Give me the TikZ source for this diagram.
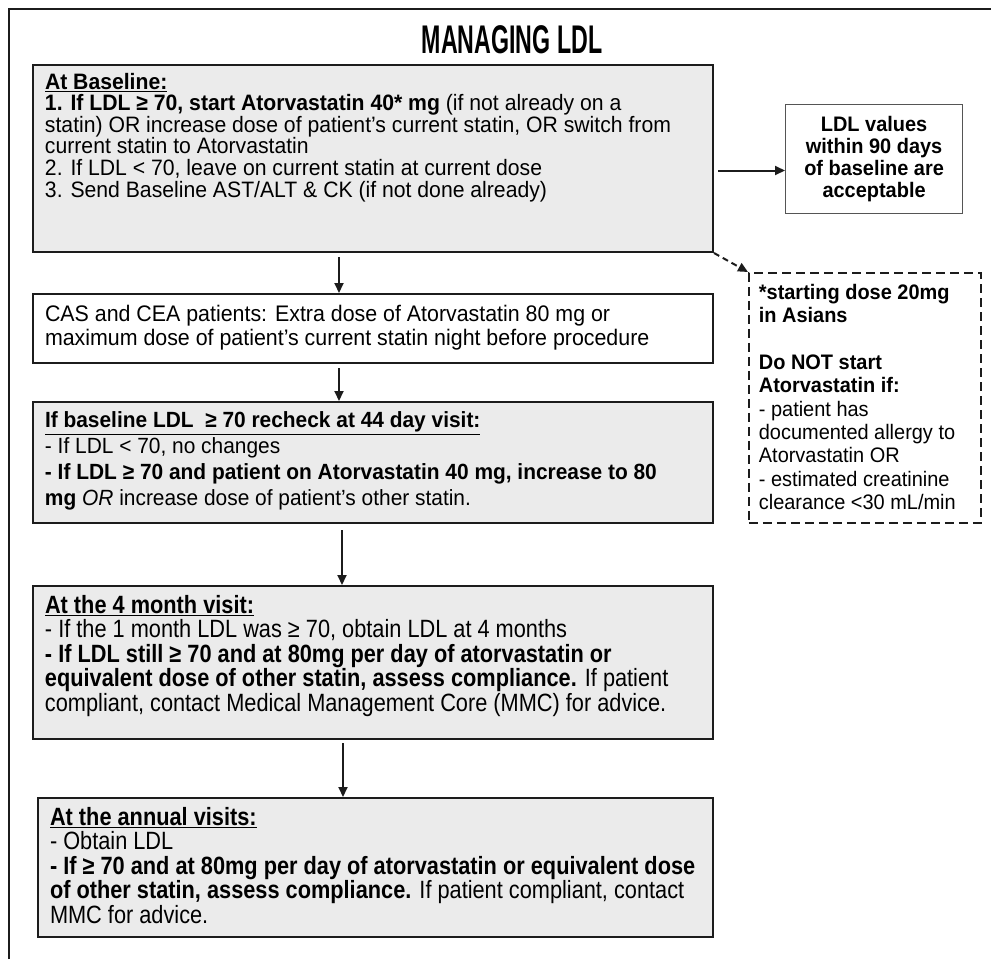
\documentclass[tikz,border=0pt]{standalone}
\usepackage{fontspec}
\setmainfont[FakeStretch=0.95]{Liberation Sans}
\newfontfamily\narrowfont[FakeStretch=0.87]{Liberation Sans}
\newfontfamily\titlefont[FakeStretch=0.58]{Liberation Sans}
\usetikzlibrary{arrows.meta}
\definecolor{boxgrey}{HTML}{EBEBEB}
\definecolor{linedark}{HTML}{1C1C1C}
\definecolor{lightframe}{HTML}{555555}
\tikzset{
  flowbox/.style={draw=linedark, line width=2pt, inner sep=0pt, anchor=north west},
  greybox/.style={flowbox, fill=boxgrey},
  whitebox/.style={flowbox, fill=white},
  notebox/.style={draw=lightframe, line width=1.2pt, fill=white, inner sep=0pt, anchor=north west, align=center, font=\bfseries\fontsize{21}{22}\selectfont},
  dashbox/.style={draw=linedark, line width=1.8pt, dash pattern=on 9pt off 5pt, fill=white, inner sep=0pt, anchor=north west},
  arr/.style={line width=2pt, draw=linedark, -{Triangle[length=10pt,width=9pt]}},
  dasharr/.style={arr, dash pattern=on 6pt off 4pt},
}
\newcommand\bodytext[3]{\begin{minipage}[c][#2][t]{#1}\raggedright #3\end{minipage}}
\begin{document}
\begin{tikzpicture}[x=1pt,y=-1pt]
\useasboundingbox (0,0) rectangle (991,959);
% outer frame
\draw[line width=2pt, draw=linedark] (9,959) -- (9,9) -- (991,9);
% title
\node[font=\titlefont\bfseries\fontsize{40}{40}\selectfont] (title) at (512,40) {MANAGING LDL};

% box 1
\node[greybox, minimum width=680pt, minimum height=187pt] (b1) at (32,64)
 {\bodytext{656pt}{171pt}{\fontsize{22.3}{21.6}\selectfont
  \underline{\textbf{At Baseline:}}\\
  \textbf{1. If LDL ≥ 70, start Atorvastatin 40* mg} (if not already on a\\
  statin) OR increase dose of patient’s current statin, OR switch from\\
  current statin to Atorvastatin\\
  2. If LDL < 70, leave on current statin at current dose\\
  3. Send Baseline AST/ALT \& CK (if not done already)}};

% box 2
\node[whitebox, minimum width=680pt, minimum height=69pt] (b2) at (32,293)
 {\bodytext{656pt}{47pt}{\fontsize{22.5}{24}\selectfont
  CAS and CEA patients: Extra dose of Atorvastatin 80 mg or\\
  maximum dose of patient's current statin night before procedure}};

% box 3
\node[greybox, minimum width=680pt, minimum height=121pt] (b3) at (32,401)
 {\bodytext{656pt}{101pt}{\fontsize{22}{26}\selectfont
  \underline{\textbf{If baseline LDL\ \ ≥ 70 recheck at 44 day visit:}}\\
  - If LDL < 70, no changes\\
  \textbf{- If LDL ≥ 70 and patient on Atorvastatin 40 mg, increase to 80}\\
  \textbf{mg} \textit{OR} increase dose of patient's other statin.}};

% box 4
\node[greybox, minimum width=680pt, minimum height=153pt] (b4) at (32,585)
 {\bodytext{656pt}{135pt}{\narrowfont\fontsize{25}{24.5}\selectfont
  \underline{\textbf{At the 4 month visit:}}\\
  - If the 1 month LDL was ≥ 70, obtain LDL at 4 months\\
  \textbf{- If LDL still ≥ 70 and at 80mg per day of atorvastatin or}\\
  \textbf{equivalent dose of other statin, assess compliance.} If patient\\
  compliant, contact Medical Management Core (MMC) for advice.}};

% box 5
\node[greybox, minimum width=675pt, minimum height=139pt] (b5) at (37,797)
 {\bodytext{651pt}{121pt}{\narrowfont\fontsize{25}{24.5}\selectfont
  \underline{\textbf{At the annual visits:}}\\
  - Obtain LDL\\
  \textbf{- If ≥ 70 and at 80mg per day of atorvastatin or equivalent dose}\\
  \textbf{of other statin, assess compliance.} If patient compliant, contact\\
  MMC for advice.}};

% side note boxes
\node[notebox, minimum width=177pt, minimum height=109pt] (ldl) at (785,104)
 {LDL values\\ within 90 days\\ of baseline are\\ acceptable};

\node[dashbox, minimum width=232pt, minimum height=250pt] (note) at (748,272)
 {\bodytext{212pt}{228pt}{\fontsize{21}{23.4}\selectfont
  \textbf{*starting dose 20mg}\\
  \textbf{in Asians}\\[23.4pt]
  \textbf{Do NOT start}\\
  \textbf{Atorvastatin if:}\\
  - patient has\\
  documented allergy to\\
  Atorvastatin OR\\
  - estimated creatinine\\
  clearance <30 mL/min}};

% connectors
\draw[arr] ([yshift=-12pt]b1.east) ++(4,0) coordinate (a1s) -- (a1s -| ldl.west) ;
\draw[dasharr] (b1.south east) -- (note.north west);
\draw[arr] ([xshift=-34pt,yshift=-4pt]b1.south) coordinate (a2s) -- (a2s |- b2.north);
\draw[arr] ([xshift=-34pt,yshift=-4pt]b2.south) coordinate (a3s) -- (a3s |- b3.north);
\draw[arr] ([xshift=-31pt,yshift=-6pt]b3.south) coordinate (a4s) -- (a4s |- b4.north);
\draw[arr] ([xshift=-30pt,yshift=-3pt]b4.south) coordinate (a5s) -- (a5s |- b5.north);
\end{tikzpicture}
\end{document}
